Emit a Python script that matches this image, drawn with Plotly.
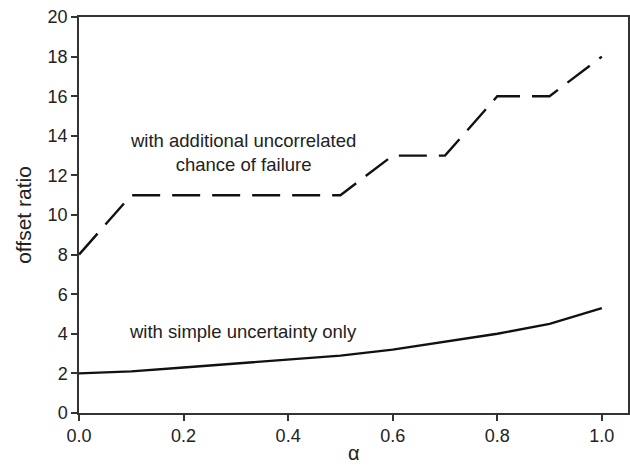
import plotly.graph_objects as go

alpha = [0.0, 0.1, 0.2, 0.3, 0.4, 0.5, 0.6, 0.7, 0.8, 0.9, 1.0]
simple_uncertainty = [2.0, 2.1, 2.3, 2.5, 2.7, 2.9, 3.2, 3.6, 4.0, 4.5, 5.3]
additional_failure = [8, 11, 11, 11, 11, 11, 13, 13, 16, 16, 18]

x_ticks = [0.0, 0.2, 0.4, 0.6, 0.8, 1.0]
y_ticks = [0, 2, 4, 6, 8, 10, 12, 14, 16, 18, 20]

FONT = "Liberation Sans, Arial, sans-serif"

fig = go.Figure()
fig.add_trace(go.Scatter(x=alpha, y=simple_uncertainty, mode="lines",
                         line=dict(color="#111111", width=2.4), showlegend=False))
fig.add_trace(go.Scatter(x=alpha, y=additional_failure, mode="lines",
                         line=dict(color="#111111", width=2.4, dash="28px,12px"), showlegend=False))

fig.add_annotation(x=0.313, y=13.15, xref="x", yref="y",
                   text="with additional uncorrelated<br>chance of failure",
                   showarrow=False, font=dict(family=FONT, size=18.5, color="#222222"))
fig.add_annotation(x=0.313, y=4.12, xref="x", yref="y",
                   text="with simple uncertainty only",
                   showarrow=False, font=dict(family=FONT, size=18.5, color="#222222"))
# x-axis title, sitting at the bottom edge of the figure
fig.add_annotation(x=0.5, y=0, xref="paper", yref="paper", xanchor="center", yanchor="bottom",
                   yshift=-52, borderpad=0, text="α", showarrow=False,
                   font=dict(family=FONT, size=20, color="#222222"))

fig.update_layout(
    width=630, height=466,
    margin=dict(l=79, r=2, t=17, b=53),
    paper_bgcolor="white", plot_bgcolor="white",
    font=dict(family=FONT, size=18, color="#222222"),
    xaxis=dict(range=[0, 1.05], tickvals=x_ticks, ticktext=[f"{v:.1f}" for v in x_ticks],
               automargin=False,
               showgrid=False, zeroline=False, showline=True, mirror=True,
               linecolor="#333333", linewidth=1.5, ticks="outside", ticklen=6,
               tickcolor="#333333", tickwidth=1.5),
    yaxis=dict(range=[0, 20], tickvals=y_ticks, showgrid=False, zeroline=False,
               automargin=False,
               showline=True, mirror=True, linecolor="#333333", linewidth=1.5,
               ticks="outside", ticklen=6, tickcolor="#333333", tickwidth=1.5,
               title=dict(text="offset ratio", standoff=10, font=dict(size=21))),
)

fig.write_html("out.html")
